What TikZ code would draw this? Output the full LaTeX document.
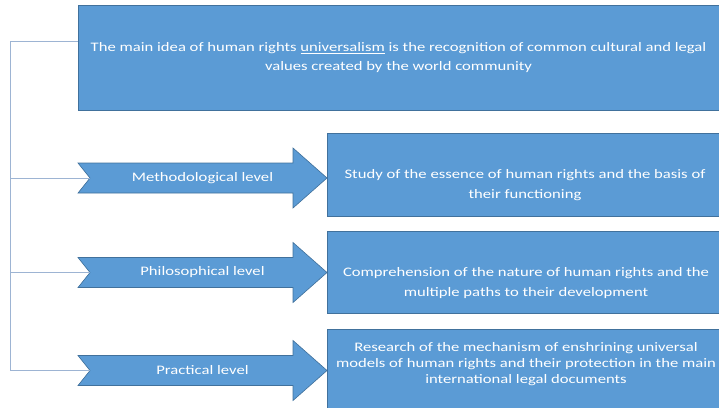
\documentclass[tikz,border=0pt]{standalone}
\usepackage{fontspec}
\setmainfont{Carlito}[FakeStretch=1.28]
\definecolor{boxblue}{HTML}{5B9BD5}
\definecolor{boxedge}{HTML}{41719C}
\definecolor{linkgrey}{HTML}{9DB4D3}

\begin{document}
\begin{tikzpicture}
[every node/.style={inner sep=0pt, font=\fontsize{13}{19.5}\selectfont}]
\useasboundingbox (0pt, 0pt) rectangle (719pt, -407pt);
\node (idea) [rectangle, minimum width=641pt, minimum height=105pt, fill=boxblue, line width=0.625pt, draw=boxedge, align=center, text=white] at (398.5pt, -57.5pt) {The main idea of human rights \underline{universalism} is the recognition of common cultural and legal\\values created by the world community};
\node (study) [rectangle, minimum width=392pt, minimum height=83pt, fill=boxblue, line width=0.625pt, draw=boxedge] at (523pt, -174.5pt) {};
\node (compreh) [rectangle, minimum width=392pt, minimum height=82pt, fill=boxblue, line width=0.625pt, draw=boxedge] at (523pt, -272pt) {};
\node (research) [rectangle, minimum width=392pt, minimum height=82pt, fill=boxblue, line width=0.625pt, draw=boxedge] at (523pt, -370pt) {};
\node (studytext) [align=center, text=white] at (525pt, -185pt) {Study of the essence of human rights and the basis of\\their functioning};
\node (comprehtext) [align=center, text=white] at (526pt, -283pt) {Comprehension of the nature of human rights and the\\multiple paths to their development};
\node (researchtext) [align=center, text=white, font=\fontsize{13}{16}\selectfont] at (526pt, -364.5pt) {Research of the mechanism of enshrining universal\\models of human rights and their protection in the main\\international legal documents};
\fill [fill=boxblue, line width=0.625pt, draw=boxedge] (78pt, -163pt) -- (293pt, -163pt) -- (293pt, -148pt) -- (327pt, -178pt) -- (293pt, -208pt) -- (293pt, -193pt) -- (78pt, -193pt) -- (90pt, -178pt) -- cycle;
\fill [fill=boxblue, line width=0.625pt, draw=boxedge] (78pt, -257.5pt) -- (293pt, -257.5pt) -- (293pt, -242.5pt) -- (327pt, -272.5pt) -- (293pt, -302.5pt) -- (293pt, -287.5pt) -- (78pt, -287.5pt) -- (90pt, -272.5pt) -- cycle;
\fill [fill=boxblue, line width=0.625pt, draw=boxedge] (78pt, -355.5pt) -- (293pt, -355.5pt) -- (293pt, -340.5pt) -- (327pt, -370.5pt) -- (293pt, -400.5pt) -- (293pt, -385.5pt) -- (78pt, -385.5pt) -- (90pt, -370.5pt) -- cycle;
\node (method) [text=white] at (202.5pt, -178pt) {Methodological level};
\node (philos) [text=white] at (202.5pt, -272.5pt) {Philosophical level};
\node (practic) [text=white] at (202.5pt, -370.5pt) {Practical level};
\coordinate (methodtail) at (90pt, -178pt);
\coordinate (philostail) at (90pt, -272.5pt);
\coordinate (practictail) at (90pt, -370.5pt);
\coordinate (spine) at (10pt, -41pt);
\draw [line width=0.75pt, color=linkgrey] ([yshift=16.5pt]idea.west) -- (spine) |- (practictail);
\draw [line width=0.75pt, color=linkgrey] (spine |- methodtail) -- (methodtail);
\draw [line width=0.75pt, color=linkgrey] (spine |- philostail) -- (philostail);
\end{tikzpicture}
\end{document}
